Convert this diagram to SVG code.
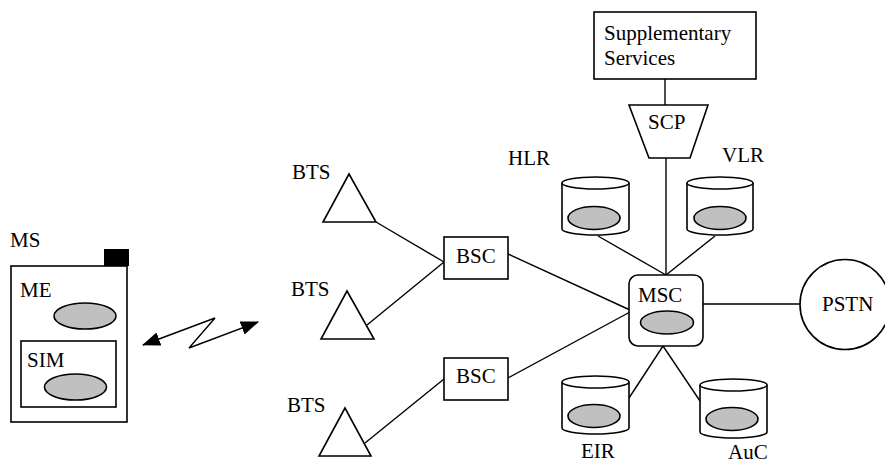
<svg xmlns="http://www.w3.org/2000/svg" width="885" height="464" viewBox="0 0 885 464">
<style>
text{font-family:"Liberation Serif","Times New Roman",serif;font-size:21px;fill:#000}
.s{fill:#fff;stroke:#000;stroke-width:1.6}
.e{fill:#c0c0c0;stroke:#000;stroke-width:1.6}
.c{fill:none;stroke:#000;stroke-width:1.4}
</style>
<defs>
<marker id="ah" viewBox="0 0 18 14" markerWidth="18" markerHeight="14" refX="17" refY="7" markerUnits="userSpaceOnUse" orient="auto-start-reverse">
<path d="M0,0 L18,7 L0,14 Z" fill="#000"/>
</marker>
</defs>
<rect width="885" height="464" fill="#fff"/>
<g id="connectors">
<line class="c" x1="665" y1="79" x2="665" y2="105"/>
<line class="c" x1="666" y1="158" x2="666" y2="275"/>
<line class="c" x1="376" y1="222" x2="444" y2="262"/>
<line class="c" x1="367" y1="325" x2="444" y2="262"/>
<line class="c" x1="365" y1="443" x2="444" y2="379"/>
<line class="c" x1="508" y1="254" x2="630" y2="310"/>
<line class="c" x1="508" y1="378" x2="630" y2="312"/>
<line class="c" x1="598" y1="236" x2="666" y2="275"/>
<line class="c" x1="715" y1="236" x2="666" y2="275"/>
<line class="c" x1="703" y1="304" x2="800" y2="304"/>
<line class="c" x1="663" y1="346" x2="629" y2="398"/>
<line class="c" x1="663" y1="346" x2="700" y2="401"/>
<polyline class="c" points="143,345 215,318 189,348 258,322" marker-start="url(#ah)" marker-end="url(#ah)"/>
</g>
<g id="MS">
<text x="10" y="247">MS</text>
<rect class="s" x="11" y="266" width="116" height="156"/>
<rect x="104" y="249" width="25" height="17" fill="#000"/>
<text x="20" y="297">ME</text>
<ellipse class="e" cx="85" cy="316" rx="31" ry="13"/>
<g id="SIM">
<rect class="s" x="21" y="341" width="95" height="66"/>
<text x="27" y="367">SIM</text>
<ellipse class="e" cx="75.5" cy="387" rx="31" ry="13"/>
</g>
</g>
<g id="BTS1">
<text x="292" y="179">BTS</text>
<polygon class="s" points="349,174 323,222 376,222"/>
</g>
<g id="BTS2">
<text x="291" y="296">BTS</text>
<polygon class="s" points="347,291 321,339 374,339"/>
</g>
<g id="BTS3">
<text x="287" y="412">BTS</text>
<polygon class="s" points="345,408 319,456 371,456"/>
</g>
<g id="BSC1">
<rect class="s" x="444" y="237" width="64" height="42"/>
<text x="456" y="263">BSC</text>
</g>
<g id="BSC2">
<rect class="s" x="444" y="358" width="64" height="42"/>
<text x="456" y="383">BSC</text>
</g>
<g id="SupplementaryServices">
<rect class="s" x="594" y="12" width="162" height="67"/>
<text x="604" y="40">Supplementary</text>
<text x="604" y="65">Services</text>
</g>
<g id="SCP">
<polygon class="s" points="629,105 708,105 690,158 649,158"/>
<text x="648" y="129">SCP</text>
</g>
<g id="HLR">
<text x="508" y="165">HLR</text>
<path class="s" d="M562,183 V229 A33.5,6 0 0 0 629,229 V183"/>
<ellipse class="s" cx="595.5" cy="183" rx="33.5" ry="6"/>
<ellipse class="e" cx="594" cy="218" rx="26" ry="11.5"/>
</g>
<g id="VLR">
<text x="722" y="162">VLR</text>
<path class="s" d="M687,183 V229 A33,6 0 0 0 753,229 V183"/>
<ellipse class="s" cx="720" cy="183" rx="33" ry="6"/>
<ellipse class="e" cx="720" cy="218" rx="26" ry="11.5"/>
</g>
<g id="MSC">
<rect class="s" x="629" y="275" width="74" height="71" rx="9" ry="9"/>
<text x="638" y="302">MSC</text>
<ellipse class="e" cx="667" cy="322.5" rx="26.5" ry="11.5"/>
</g>
<g id="PSTN">
<circle class="s" cx="845" cy="304.5" r="45"/>
<text x="822" y="311">PSTN</text>
</g>
<g id="EIR">
<path class="s" d="M562,382 V428 A33.5,6 0 0 0 629,428 V382"/>
<ellipse class="s" cx="595.5" cy="382" rx="33.5" ry="6"/>
<ellipse class="e" cx="594" cy="416" rx="26" ry="11.5"/>
<text x="581" y="458">EIR</text>
</g>
<g id="AuC">
<path class="s" d="M700,385 V432 A33.5,6 0 0 0 767,432 V385"/>
<ellipse class="s" cx="733.5" cy="385" rx="33.5" ry="6"/>
<ellipse class="e" cx="732" cy="419" rx="26" ry="11.5"/>
<text x="728" y="459">AuC</text>
</g>
</svg>
